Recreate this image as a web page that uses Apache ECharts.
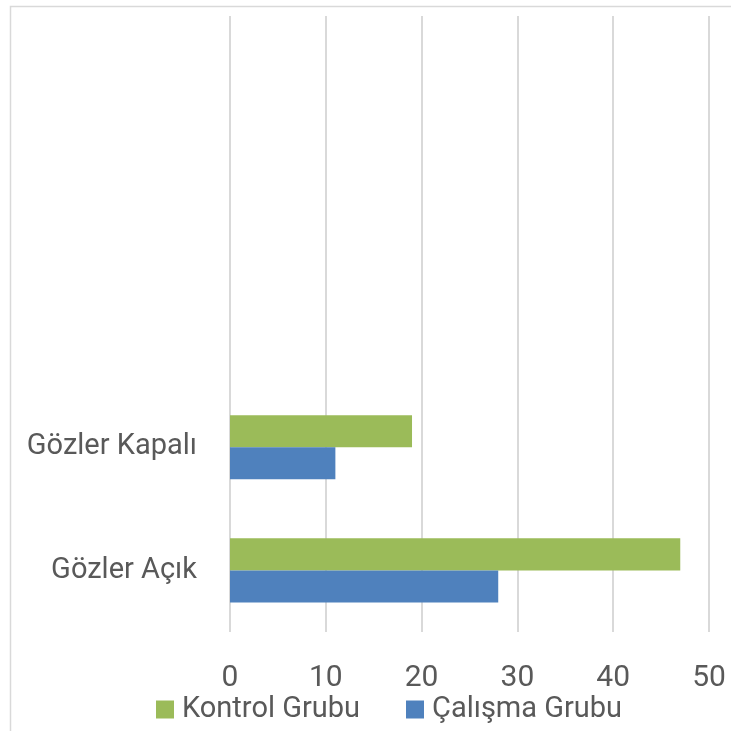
<!DOCTYPE html>
<html>
<head>
<meta charset="utf-8">
<script src="https://cdn.jsdelivr.net/npm/echarts@6/dist/echarts.min.js"></script>
<style>
  html, body { margin: 0; padding: 0; background: #fff; }
  #chart { width: 731px; height: 731px; }
</style>
</head>
<body>
<div id="chart"></div>
<script>
// categories from bottom to top, the top three are empty in the source
let categories = ['Gözler Açık', 'Gözler Kapalı', '', '', ''];
let kontrolGrubu = [47, 19, null, null, null];
let calismaGrubu = [28, 11, null, null, null];
let xTicks = { min: 0, max: 50, interval: 10 };

let chart = echarts.init(document.getElementById('chart'));
let labelFont = "Roboto, 'Noto Sans', sans-serif";

let option = {
    animation: false,
    graphic: [{
        type: 'rect',
        shape: { x: 10.5, y: 6.5, width: 740, height: 740 },
        style: { fill: 'none', stroke: '#d9d9d9', lineWidth: 1.5 },
        silent: true
    }],
    legend: {
        data: ['Kontrol Grubu', 'Çalışma Grubu'],
        left: 151,
        top: 690,
        itemWidth: 18,
        itemHeight: 18,
        itemGap: 46,
        icon: 'rect',
        textStyle: { color: '#595959', fontSize: 29, fontFamily: labelFont, padding: [0, 0, 0, 3] }
    },
    grid: {
        left: 230,
        right: 22,
        top: 16,
        bottom: 99
    },
    xAxis: {
        type: 'value',
        min: xTicks.min,
        max: xTicks.max,
        interval: xTicks.interval,
        axisLine: { show: false },
        axisTick: { show: false },
        axisLabel: { color: '#595959', fontSize: 30, fontFamily: labelFont, margin: 31 },
        splitLine: { lineStyle: { color: '#d9d9d9', width: 2 } }
    },
    yAxis: {
        type: 'category',
        data: categories,
        axisLine: { show: false },
        axisTick: { show: false },
        axisLabel: { color: '#595959', fontSize: 29, fontFamily: labelFont, margin: 33 }
    },
    series: [
        {
            name: 'Kontrol Grubu',
            type: 'bar',
            data: kontrolGrubu,
            itemStyle: { color: '#9bbb59' },
            barGap: '0%',
            barCategoryGap: '48%'
        },
        {
            name: 'Çalışma Grubu',
            type: 'bar',
            data: calismaGrubu,
            itemStyle: { color: '#4f81bd' },
            barGap: '0%',
            barCategoryGap: '48%'
        }
    ]
};

chart.setOption(option);
</script>
</body>
</html>
